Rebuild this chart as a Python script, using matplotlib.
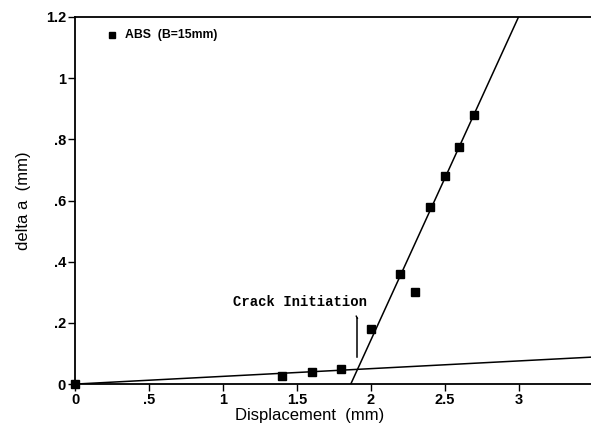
import matplotlib
matplotlib.use("Agg")
import matplotlib.pyplot as plt

# Measured crack extension vs. displacement (ABS, B = 15 mm)
displacement = [0.0, 1.4, 1.6, 1.8, 2.0, 2.2, 2.3, 2.4, 2.5, 2.6, 2.7]
delta_a = [0.0, 0.025, 0.04, 0.05, 0.18, 0.36, 0.30, 0.58, 0.68, 0.775, 0.88]

# Blunting line and crack growth line: (x0, y0) -> (x1, y1)
blunting_line = ([0.0, 3.49], [0.0, 0.088])
growth_line = ([1.865, 3.0], [0.0, 1.2])

x_ticks = [0, 0.5, 1, 1.5, 2, 2.5, 3]
x_tick_labels = ["0", ".5", "1", "1.5", "2", "2.5", "3"]
y_ticks = [0, 0.2, 0.4, 0.6, 0.8, 1.0, 1.2]
y_tick_labels = ["0", ".2", ".4", ".6", ".8", "1", "1.2"]

plt.rcParams["font.family"] = ["Liberation Sans", "DejaVu Sans"]

fig = plt.figure(figsize=(5.91, 4.23), dpi=100)
ax = fig.add_axes([0.127, 0.092, 0.873, 0.868])

ax.plot(*blunting_line, color="black", lw=1.1)
ax.plot(*growth_line, color="black", lw=1.1)
ax.plot(displacement, delta_a, ls="none", marker="s", ms=5.5,
        color="black", clip_on=False, zorder=5)

ax.set_xlim(0, 3.49)
ax.set_ylim(0, 1.2)
ax.set_xticks(x_ticks)
ax.set_xticklabels(x_tick_labels)
ax.set_yticks(y_ticks)
ax.set_yticklabels(y_tick_labels)
ax.tick_params(direction="out", length=5, width=1.0, labelsize=10.5, pad=1.5)
for lab in ax.get_xticklabels() + ax.get_yticklabels():
    lab.set_fontweight("bold")

ax.spines["right"].set_visible(False)
for s in ("left", "bottom", "top"):
    ax.spines[s].set_linewidth(1.3)

ax.set_xlabel("Displacement  (mm)", fontsize=12)
ax.xaxis.set_label_coords(0.455, -0.085)
ax.xaxis.label.set_va("center")
ax.set_ylabel("delta a  (mm)", fontsize=12)
ax.yaxis.set_label_coords(-0.1, 0.5)
ax.yaxis.label.set_va("center")

# Legend entry
ax.plot([0.25], [1.14], marker="s", ms=4.5, color="black", ls="none")
ax.text(0.335, 1.14, "ABS  (B=15mm)", fontweight="bold",
        fontsize=8.8, va="center", ha="left")

# Crack initiation annotation
ax.text(1.52, 0.268, "Crack Initiation", fontfamily="Liberation Mono",
        fontweight="bold", fontsize=10, ha="center", va="center")
ax.plot([1.91, 1.91], [0.088, 0.215], color="black", lw=1.1)
ax.plot([1.91, 1.902], [0.215, 0.222], color="black", lw=1.0)

fig.savefig("out.png", dpi=100)
